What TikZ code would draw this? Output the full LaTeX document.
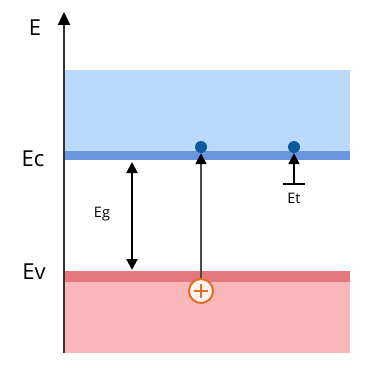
\documentclass[tikz,border=0pt]{standalone}
\usepackage{fontspec}
\setmainfont{Open Sans}
\usetikzlibrary{arrows.meta}
\definecolor{bandblue}{HTML}{BBDAFB}
\definecolor{edgeblue}{HTML}{6A96E0}
\definecolor{bandred}{HTML}{FBB6BA}
\definecolor{edgered}{HTML}{E5787E}
\definecolor{dotblue}{HTML}{0D5A9C}
\definecolor{holeorange}{HTML}{E0701E}
\tikzset{
  lbl/.style={font=\fontsize{22}{24}\selectfont, inner sep=0pt},
  slbl/.style={font=\fontsize{14.5}{16}\selectfont, inner sep=0pt},
  electron/.style={circle, fill=dotblue, minimum size=12pt, inner sep=0pt},
  hole/.style={circle, draw=holeorange, line width=2pt, fill=white!85!bandred, minimum size=24pt, inner sep=0pt},
  arr/.style={line width=2pt, -{Triangle[length=11pt,width=11pt,color=black]}},
  darr/.style={line width=2pt, {Triangle[length=11pt,width=11pt]}-{Triangle[length=11pt,width=11pt]}},
}
\begin{document}
\begin{tikzpicture}[x=1pt,y=-1pt]
\useasboundingbox[fill=white] (0,0) rectangle (364,371);
% bands
\fill[bandblue] (64,70) rectangle (350,152);
\fill[edgeblue] (64,151) rectangle (350,160);
\fill[bandred] (64,281) rectangle (350,353);
\fill[edgered] (64,271) rectangle (350,282);
% axis
\coordinate (ax0) at (64,353);
\coordinate (ax1) at (64,12);
\draw[line width=2.4pt, draw=black!80, -{Triangle[length=13pt,width=12pt,color=black]}] (ax0) -- (ax1);
\node[lbl] (E) at (35,28) {E};
\node[lbl] (Ec) at (33,159) {Ec};
\node[lbl] (Ev) at (34,272) {Ev};
% gap
\coordinate (g1) at (132,162);
\coordinate (g2) at (132,270);
\draw[darr] (g1) -- (g2);
\node[slbl] (Eg) at (102,214) {Eg};
% electrons
\node[electron] (e1) at (201,147) {};
\node[electron] (e2) at (294,147) {};
\node[hole] (h) at (201,291) {};
\draw[line width=2pt, holeorange] (h.center) +(-7,0) -- +(7,0);
\draw[line width=2pt, holeorange] (h.center) +(0,-7) -- +(0,7);
\draw[arr, draw=black!70] (h.north) -- (e1.south);
% trap
\coordinate (t1) at (283,184);
\coordinate (t2) at (305,184);
\coordinate (tm) at (294,184);
\draw[line width=2pt] (t1) -- (t2);
\draw[arr] (tm) -- (e2.south);
\node[slbl] (Et) at (294,198) {Et};
\end{tikzpicture}
\end{document}
